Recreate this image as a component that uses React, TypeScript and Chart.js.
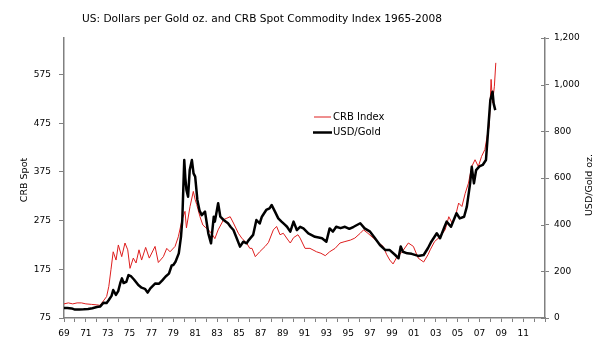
import React, { useEffect, useRef } from 'react';
import { Chart, registerables } from 'chart.js';
Chart.register(...registerables);

const TITLE = 'US: Dollars per Gold oz. and CRB Spot Commodity Index 1965-2008';
const LEFT_TITLE = 'CRB Spot';
const RIGHT_TITLE = 'USD/Gold oz.';
const CRB_LABEL = 'CRB Index';
const GOLD_LABEL = 'USD/Gold';

const crbYears = [
  1969.0, 1969.4, 1969.8, 1970.2, 1970.6, 1971.0, 1971.5, 1972.0, 1972.3, 1972.6, 1972.9,
  1973.1, 1973.3, 1973.5, 1973.76, 1973.97, 1974.28, 1974.58, 1974.83, 1975.04, 1975.34,
  1975.59, 1975.86, 1976.1, 1976.47, 1976.8, 1977.33, 1977.63, 1978.09, 1978.4, 1978.7,
  1979.16, 1979.46, 1979.8, 1980.07, 1980.2, 1980.53, 1980.83, 1981.0, 1981.14, 1981.44,
  1981.7, 1981.9, 1982.2, 1982.5, 1982.8, 1983.1, 1983.6, 1983.9, 1984.2, 1984.5, 1984.95,
  1985.26, 1985.7, 1986.0, 1986.2, 1986.5, 1986.9, 1987.4, 1987.7, 1988.15, 1988.45,
  1988.76, 1989.06, 1989.5, 1989.7, 1990.0, 1990.4, 1990.6, 1991.05, 1991.5, 1992.1,
  1992.5, 1992.9, 1993.3, 1993.8, 1994.25, 1994.7, 1995.2, 1995.6, 1996.1, 1996.4, 1996.8,
  1997.3, 1997.76, 1998.2, 1998.5, 1998.8, 1999.1, 1999.4, 1999.9, 2000.5, 2000.96, 2001.4,
  2001.9, 2002.3, 2002.5, 2002.9, 2003.4, 2003.86, 2004.2, 2004.5, 2004.8, 2005.1, 2005.4,
  2005.7, 2006.0, 2006.3, 2006.6, 2006.9, 2007.2, 2007.5, 2007.76, 2007.9, 2008.07, 2008.2,
  2008.37, 2008.5,
];
const crbValues = [
  104, 106, 104, 106, 106, 104, 103, 102, 101, 110, 119,
  140, 175, 211, 194, 225, 201, 229, 215, 177, 198,
  188, 215, 194, 220, 198, 222, 189, 201, 218, 211,
  222, 242, 277, 294, 260, 304, 335, 318, 308, 283,
  266, 262, 256, 249, 238, 256, 277, 280, 283, 270, 249,
  239, 229, 218, 218, 201, 211, 222, 230, 256, 263,
  246, 249, 235, 229, 240, 246, 239, 218, 218, 211,
  208, 203, 211, 218, 229, 232, 235, 239, 249, 256, 249,
  239, 230, 222, 206, 194, 186, 198, 210, 229, 222, 198,
  190, 205, 215, 232, 242, 256, 283, 270, 283, 311, 304,
  331, 352, 386, 400, 386, 407, 421, 455, 469, 565, 517,
  551, 599,
];

const goldYears = [
  1969.0, 1969.3, 1969.7, 1970.0, 1970.4, 1970.8, 1971.2, 1971.6, 1972.0, 1972.3, 1972.6,
  1972.9, 1973.1, 1973.35, 1973.5, 1973.75, 1973.96, 1974.15, 1974.3, 1974.45, 1974.7,
  1974.9, 1975.15, 1975.4, 1975.8, 1976.1, 1976.4, 1976.65, 1976.9, 1977.35, 1977.7,
  1977.97, 1978.3, 1978.6, 1978.85, 1979.0, 1979.2, 1979.5, 1979.7, 1979.82, 1980.0,
  1980.1, 1980.2, 1980.35, 1980.5, 1980.7, 1980.85, 1981.0, 1981.2, 1981.4, 1981.6,
  1981.9, 1982.2, 1982.45, 1982.7, 1982.8, 1983.1, 1983.3, 1983.6, 1984.0, 1984.25,
  1984.5, 1984.8, 1985.1, 1985.4, 1985.7, 1985.9, 1986.3, 1986.6, 1986.9, 1987.1, 1987.5,
  1987.8, 1988.0, 1988.3, 1988.6, 1988.9, 1989.2, 1989.4, 1989.7, 1990.0, 1990.3, 1990.6,
  1990.9, 1991.35, 1991.96, 1992.3, 1992.6, 1993.0, 1993.3, 1993.6, 1993.9, 1994.3,
  1994.7, 1995.1, 1995.5, 1996.1, 1996.5, 1997.0, 1997.45, 1997.9, 1998.4, 1998.8, 1999.3,
  1999.6, 1999.8, 2000.0, 2000.4, 2000.8, 2001.4, 2001.9, 2002.3, 2002.6, 2003.1, 2003.4,
  2003.8, 2004.0, 2004.4, 2004.9, 2005.2, 2005.6, 2005.85, 2006.15, 2006.3, 2006.5, 2006.7,
  2007.0, 2007.3, 2007.6, 2007.8, 2008.0, 2008.2, 2008.3, 2008.45,
];
const goldValues = [
  43, 43, 41, 36, 36, 37, 39, 42, 47, 49, 65,
  64, 77, 95, 120, 99, 115, 150, 170, 150, 155,
  184, 178, 165, 141, 130, 125, 109, 127, 148, 147,
  160, 178, 190, 225, 227, 241, 277, 348, 420, 677,
  600, 549, 520, 634, 677, 620, 606, 506, 460, 441,
  456, 363, 320, 434, 413, 492, 434, 420, 406, 390,
  377, 342, 306, 327, 320, 334, 356, 420, 405, 434, 463,
  470, 484, 456, 427, 413, 400, 391, 370, 413, 377, 391,
  384, 363, 348, 345, 342, 327, 384, 370, 391, 385,
  391, 382, 391, 406, 384, 370, 342, 313, 291, 291, 270,
  256, 306, 284, 277, 275, 266, 270, 300, 327, 363, 342,
  390, 413, 391, 449, 427, 434, 477, 577, 648, 577, 634,
  650, 656, 677, 806, 934, 970, 920, 891,
];

const leftTicks = [75, 175, 275, 375, 475, 575];
const rightTicks = [0, 200, 400, 600, 800, 1000, 1200];
const firstYear = 1969;
const lastYear = 2013;
const lastLabelYear = 2011;

const FONT = '"DejaVu Sans", Verdana, sans-serif';
const RED = 'rgb(222,30,30)';
const AXIS = '#808080';

const textPlugin = {
  id: 'textPlugin',
  afterDraw(chart: any) {
    const ctx = chart.ctx;
    ctx.save();
    ctx.fillStyle = '#000';
    ctx.textAlign = 'center';
    ctx.textBaseline = 'middle';
    ctx.font = `10.6px ${FONT}`;
    ctx.fillText(TITLE, 262, 19);

    ctx.font = `9.5px ${FONT}`;
    ctx.save();
    ctx.translate(25, 180);
    ctx.rotate(-Math.PI / 2);
    ctx.fillText(LEFT_TITLE, 0, 0);
    ctx.restore();
    ctx.save();
    ctx.translate(590, 185);
    ctx.rotate(-Math.PI / 2);
    ctx.fillText(RIGHT_TITLE, 0, 0);
    ctx.restore();

    // legend
    ctx.textAlign = 'left';
    ctx.font = `10px ${FONT}`;
    ctx.strokeStyle = RED;
    ctx.lineWidth = 1;
    ctx.beginPath();
    ctx.moveTo(314, 117);
    ctx.lineTo(331, 117);
    ctx.stroke();
    ctx.fillText(CRB_LABEL, 333, 117);
    ctx.strokeStyle = '#000';
    ctx.lineWidth = 2.5;
    ctx.beginPath();
    ctx.moveTo(313, 132.5);
    ctx.lineTo(332, 132.5);
    ctx.stroke();
    ctx.fillText(GOLD_LABEL, 333, 132.5);

    // inner half of right-axis tick marks
    const y1 = chart.scales.y1;
    ctx.strokeStyle = AXIS;
    ctx.lineWidth = 1;
    const ax = chart.chartArea.right;
    for (const v of rightTicks) {
      const py = Math.round(y1.getPixelForValue(v)) + 0.5;
      ctx.beginPath();
      ctx.moveTo(ax - 4, py);
      ctx.lineTo(ax, py);
      ctx.stroke();
    }
    ctx.restore();
  },
};

export default function App() {
  const ref = useRef<HTMLCanvasElement | null>(null);
  useEffect(() => {
    if (!ref.current) return;
    const years: number[] = [];
    for (let y = firstYear; y <= lastYear; y++) years.push(y);
    const chart = new Chart(ref.current, {
      type: 'line',
      data: {
        datasets: [
          {
            label: GOLD_LABEL,
            data: goldYears.map((x, i) => ({ x, y: goldValues[i] })),
            yAxisID: 'y1',
            borderColor: '#000',
            borderWidth: 2.5,
            pointRadius: 0,
            tension: 0,
            borderJoinStyle: 'round',
            order: 0,
          },
          {
            label: CRB_LABEL,
            data: crbYears.map((x, i) => ({ x, y: crbValues[i] })),
            yAxisID: 'y',
            borderColor: RED,
            borderWidth: 1,
            pointRadius: 0,
            tension: 0,
            order: 1,
          },
        ],
      },
      options: {
        animation: false,
        responsive: false,
        devicePixelRatio: 1,
        layout: { padding: { top: 38, left: 0, right: 0, bottom: 0 } },
        plugins: { legend: { display: false }, title: { display: false }, tooltip: { enabled: false } },
        scales: {
          x: {
            type: 'linear',
            position: 'bottom',
            min: firstYear,
            max: lastYear,
            afterBuildTicks: (s: any) => {
              s.ticks = years.map((v) => ({ value: v }));
            },
            afterFit: (s: any) => {
              s.height = 35;
            },
            ticks: {
              autoSkip: false,
              maxRotation: 0,
              padding: 6,
              color: '#000',
              font: { family: FONT, size: 9 },
              callback: (v: any) => {
                const n = Number(v);
                if (n > lastLabelYear || (n - firstYear) % 2 !== 0) return '';
                return String(n % 100).padStart(2, '0');
              },
            },
            grid: { display: true, drawOnChartArea: false, drawTicks: true, tickLength: 4, color: AXIS },
            border: { display: true, color: AXIS, width: 1.5 },
          },
          y: {
            type: 'linear',
            position: 'left',
            min: 75,
            max: 650,
            afterBuildTicks: (s: any) => {
              s.ticks = leftTicks.map((v) => ({ value: v }));
            },
            afterFit: (s: any) => {
              s.width = 64;
            },
            ticks: { padding: 8, color: '#000', font: { family: FONT, size: 9 } },
            grid: { display: true, drawOnChartArea: false, drawTicks: true, tickLength: 5, color: AXIS },
            border: { display: true, color: AXIS, width: 1.5 },
          },
          y1: {
            type: 'linear',
            position: 'right',
            min: 0,
            max: 1200,
            afterBuildTicks: (s: any) => {
              s.ticks = rightTicks.map((v) => ({ value: v }));
            },
            afterFit: (s: any) => {
              s.width = 57;
            },
            ticks: {
              padding: 5,
              color: '#000',
              font: { family: FONT, size: 9 },
              callback: (v: any) => Number(v).toLocaleString('en-US'),
            },
            grid: { display: true, drawOnChartArea: false, drawTicks: true, tickLength: 4, color: AXIS },
            border: { display: true, color: AXIS, width: 1.5 },
          },
        },
      },
      plugins: [textPlugin],
    } as any);
    return () => chart.destroy();
  }, []);
  return (
    <div style={{ position: 'absolute', left: 0, top: 0, width: 602, height: 353, background: '#fff' }}>
      <canvas ref={ref} width={602} height={353} style={{ width: 602, height: 353 }} />
    </div>
  );
}
